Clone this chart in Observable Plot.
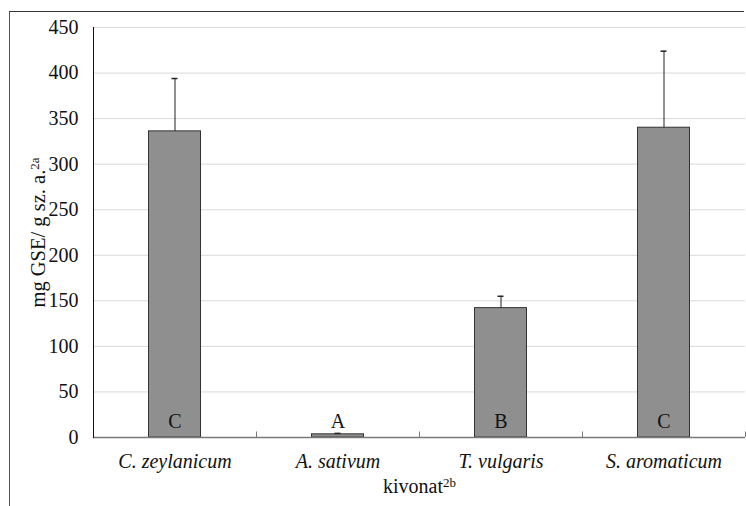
<!DOCTYPE html>
<html>
<head>
<meta charset="utf-8">
<script src="https://cdn.jsdelivr.net/npm/d3@7"></script>
<script src="https://cdn.jsdelivr.net/npm/@observablehq/plot@0.6"></script>
<style>
  html, body { margin: 0; padding: 0; background: #fff; font-family: "Liberation Serif", serif; }
  #wrap { position: relative; width: 746px; height: 506px; overflow: hidden; }
  #wrap svg, #wrap svg text, #wrap svg tspan { font-family: "Liberation Serif", serif !important; }
  #border { position: absolute; left: 9px; top: 11px; width: 734px; height: 520px;
            border-top: 1.5px solid #333; border-left: 1.5px solid #555; pointer-events: none; }
</style>
</head>
<body>
<div id="wrap"><div id="border"></div></div>
<script>
const categories = ["C. zeylanicum", "A. sativum", "T. vulgaris", "S. aromaticum"];
const means = [336, 3.5, 142, 340];
const errors = [58, 1, 13, 84];
const letters = ["C", "A", "B", "C"];
const yTicks = [0, 50, 100, 150, 200, 250, 300, 350, 400, 450];
const yTitle = "mg GSE/ g sz. a.";
const yTitleSup = "2a";
const xTitle = "kivonat";
const xTitleSup = "2b";

const data = categories.map((c, i) => ({cat: c, mean: means[i], err: errors[i], letter: letters[i]}));
const font = "Liberation Serif";

const chart = Plot.plot({
  width: 746,
  height: 506,
  marginTop: 27,
  marginBottom: 69,
  marginLeft: 93,
  marginRight: 1,
  style: "font-family: 'Liberation Serif', serif; font-size: 20px; color: #111; background: transparent;",
  x: {domain: categories, padding: 0, label: null},
  y: {domain: [0, 450], label: null},
  marks: [
    Plot.gridY(yTicks.filter(v => v > 0), {stroke: "#d9d9d9", strokeOpacity: 1}),
    Plot.barY(data, {x: "cat", y: "mean", fill: "#8f8f8f", stroke: "#333", strokeWidth: 1, insetLeft: 55.5, insetRight: 55.5}),
    Plot.ruleX(data, {x: "cat", y1: "mean", y2: d => d.mean + d.err, stroke: "#222", strokeWidth: 1}),
    Plot.tickY(data, {x: "cat", y: d => d.mean + d.err, insetLeft: 78.5, insetRight: 78.5, stroke: "#222", strokeWidth: 1.5}),
    Plot.ruleY([0], {stroke: "#7a7a7a", strokeWidth: 1.5}),
    Plot.ruleX(categories, {x: d => d, y1: 0, y2: 6, dx: 81.5, stroke: "#7a7a7a", strokeWidth: 1}),
    Plot.frame({anchor: "left", stroke: "#111"}),
    Plot.text(data, {x: "cat", y: () => 17, text: "letter", fontSize: 20, fill: "#111"}),
    Plot.axisY(yTicks, {tickSize: 0, tickPadding: 15, fontSize: 20, label: null}),
    Plot.axisX({tickSize: 0, tickPadding: 16, fontStyle: "italic", fontSize: 20, label: null}),
    Plot.text([yTitle], {frameAnchor: "left", textAnchor: "middle", lineAnchor: "middle", rotate: -90, dx: -55, fontSize: 20.5, fill: "#111", className: "ytitle"}),
    Plot.text([xTitle], {frameAnchor: "bottom", textAnchor: "middle", lineAnchor: "middle", dy: 49, fontSize: 20, fill: "#111", className: "xtitle"})
  ]
});

const svg = d3.select(chart);
function addSup(sel, sup) {
  svg.selectAll(sel + " text").each(function() {
    d3.select(this).append("tspan").attr("dy", "-0.45em").attr("font-size", "13px").text(sup);
  });
}
addSup(".ytitle", yTitleSup);
addSup(".xtitle", xTitleSup);
svg.selectAll("text").attr("font-family", font);

document.getElementById("wrap").prepend(chart);
</script>
</body>
</html>
